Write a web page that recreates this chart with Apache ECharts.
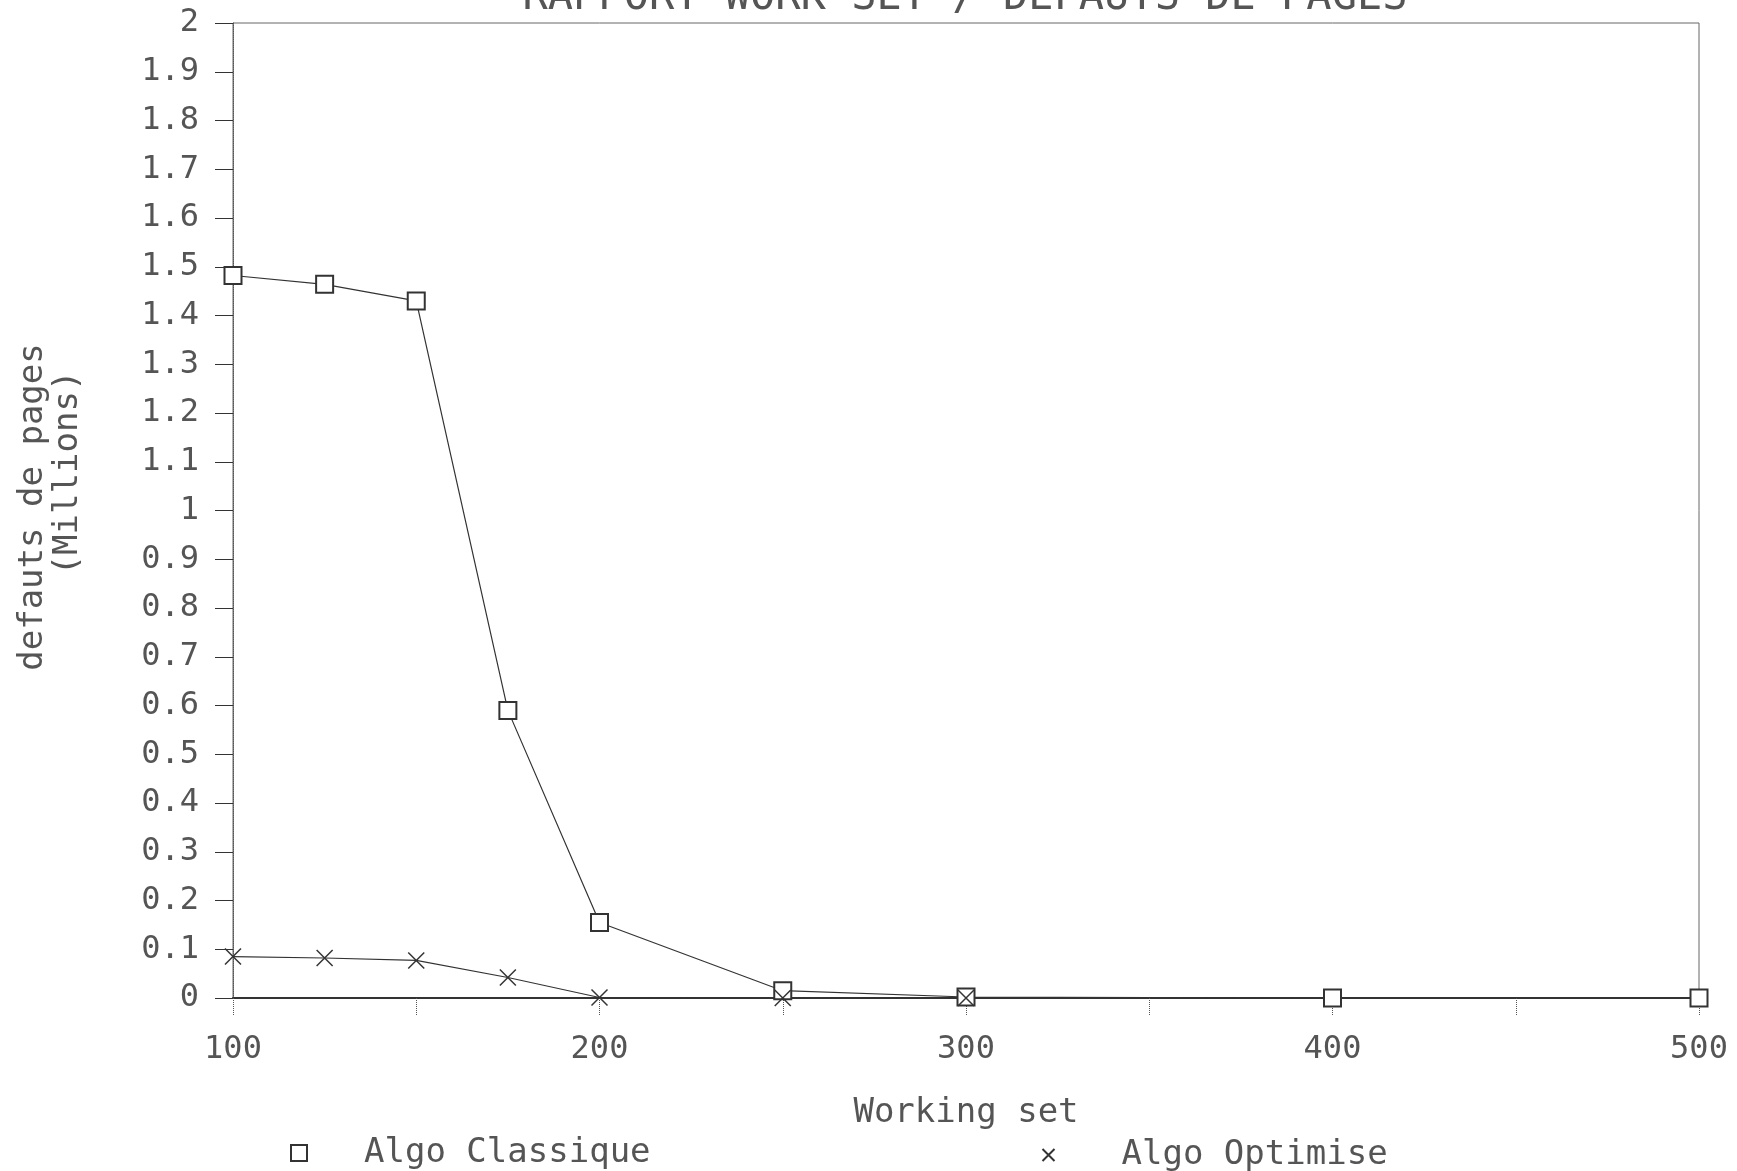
<!DOCTYPE html>
<html>
<head>
<meta charset="utf-8">
<script src="https://cdn.jsdelivr.net/npm/echarts@6/dist/echarts.min.js"></script>
<style>
html, body { margin: 0; padding: 0; background: #fff; }
#main { width: 1737px; height: 1171px; }
</style>
</head>
<body>
<div id="main"></div>
<script>
// donnees
var workingSet = [100, 125, 150, 175, 200, 250, 300, 400, 500];
var algoClassique = [1.482, 1.464, 1.43, 0.59, 0.155, 0.015, 0.002, 0, 0];
var workingSetOpt = [100, 125, 150, 175, 200, 250, 300];
var algoOptimise = [0.085, 0.082, 0.077, 0.042, 0.001, 0, 0];
var xLabels = [100, 200, 300, 400, 500];

var font = 'DejaVu Sans Mono';
var ink = '#333';
var xMark = 'path://M0,0L10,10M10,0L0,10';

var chart = echarts.init(document.getElementById('main'));
chart.setOption({
  animation: false,
  backgroundColor: '#fff',
  grid: {
    left: 233, right: 38, top: 23, bottom: 173,
    show: true, borderColor: '#666', borderWidth: 1
  },
  legend: [{
    data: [{ name: 'Algo Classique', icon: 'emptyRect' }],
    left: 285, top: 1131,
    itemWidth: 16, itemHeight: 16,
    itemStyle: { borderWidth: 2 },
    textStyle: { fontFamily: font, fontSize: 34, color: '#555', padding: [0, 0, 0, 52] }
  }, {
    data: [{ name: 'Algo Optimise', icon: xMark }],
    left: 1035, top: 1133,
    itemWidth: 12, itemHeight: 12,
    textStyle: { fontFamily: font, fontSize: 34, color: '#555', padding: [0, 0, 0, 62] }
  }],
  xAxis: {
    type: 'value',
    min: 100, max: 500, interval: 50,
    name: 'Working set',
    nameLocation: 'middle',
    nameGap: 98,
    nameTextStyle: { fontFamily: font, fontSize: 34, color: '#555' },
    axisLine: { onZero: false, lineStyle: { color: ink, width: 2 } },
    axisTick: { length: 18, lineStyle: { color: '#555', type: 'dotted' } },
    splitLine: { show: false },
    axisLabel: {
      margin: 36,
      fontFamily: font, fontSize: 32, color: '#555',
      formatter: function (v) { return xLabels.indexOf(v) >= 0 ? String(v) : ''; }
    }
  },
  yAxis: {
    type: 'value',
    min: 0, max: 2, interval: 0.1,
    axisLine: { show: true, lineStyle: { color: '#555', type: 'dotted' } },
    axisTick: { length: 18, lineStyle: { color: ink } },
    splitLine: { show: false },
    axisLabel: { margin: 34, fontFamily: font, fontSize: 32, color: '#555' }
  },
  graphic: [{
    type: 'text', x: 965, y: 19,
    style: { text: 'RAPPORT WORK SET / DEFAUTS DE PAGES', font: '42px "DejaVu Sans Mono"', fill: '#555', align: 'center', verticalAlign: 'bottom' }
  }, {
    type: 'text', x: 33, y: 507, rotation: Math.PI / 2,
    style: { text: 'defauts de pages', font: '34px "DejaVu Sans Mono"', fill: '#555', align: 'center', verticalAlign: 'middle' }
  }, {
    type: 'text', x: 68, y: 473, rotation: Math.PI / 2,
    style: { text: '(Millions)', font: '34px "DejaVu Sans Mono"', fill: '#555', align: 'center', verticalAlign: 'middle' }
  }],
  series: [{
    name: 'Algo Classique',
    type: 'line',
    data: workingSet.map(function (x, i) { return [x, algoClassique[i]]; }),
    symbol: 'emptyRect',
    symbolSize: 17,
    lineStyle: { color: ink, width: 1.2 },
    itemStyle: { color: ink, borderColor: ink, borderWidth: 1.5 }
  }, {
    name: 'Algo Optimise',
    type: 'line',
    data: workingSetOpt.map(function (x, i) { return [x, algoOptimise[i]]; }),
    symbol: xMark,
    symbolSize: 16,
    lineStyle: { color: ink, width: 1.2 },
    itemStyle: { color: 'none', borderColor: ink, borderWidth: 1.5 }
  }]
});
</script>
</body>
</html>
